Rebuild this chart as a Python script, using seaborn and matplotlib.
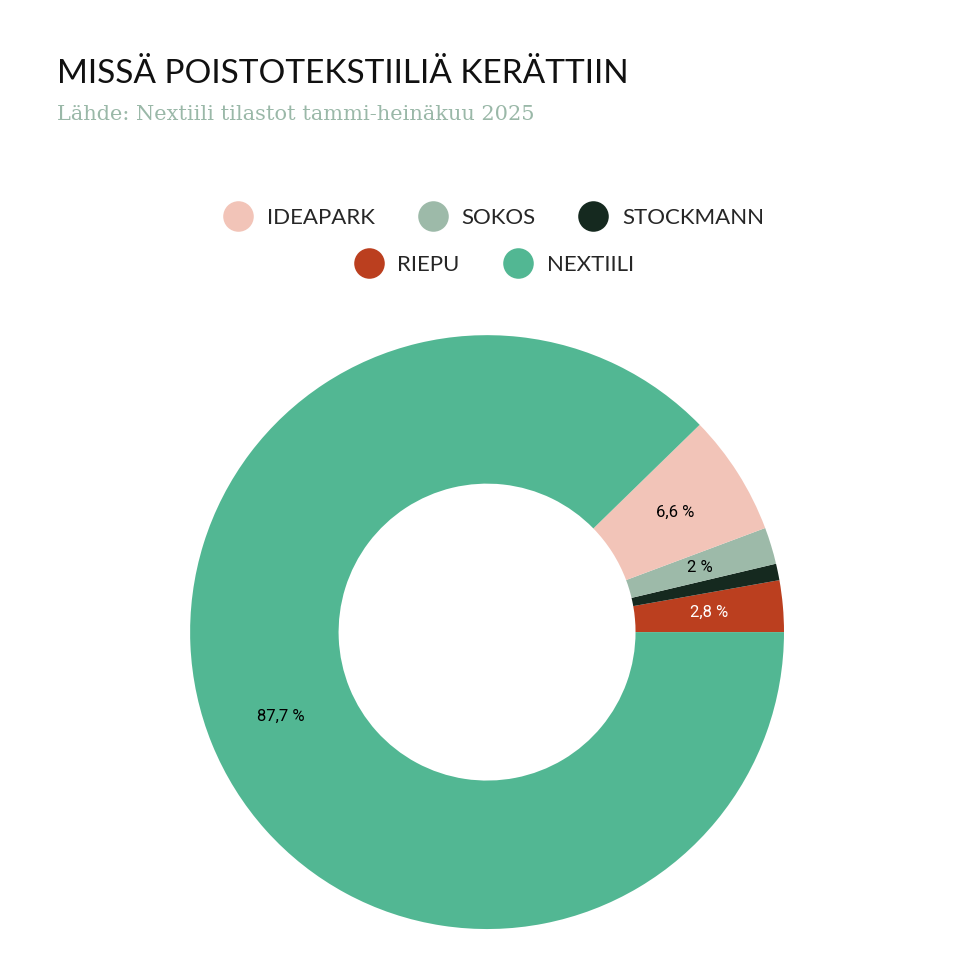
import matplotlib.pyplot as plt
import seaborn as sns
from matplotlib.lines import Line2D

sns.set_theme(style="white")

# data, counterclockwise from 3 o'clock
categories = ["RIEPU", "STOCKMANN", "SOKOS", "IDEAPARK", "NEXTIILI"]
values = [2.8, 0.9, 2.0, 6.6, 87.7]
labels = ["2,8 %", "", "2 %", "6,6 %", "87,7 %"]
colors = ["#bb3f1f", "#15291f", "#9dbaa9", "#f2c4b8", "#52b793"]
label_colors = ["white", "black", "black", "black", "black"]

legend_row1 = ["IDEAPARK", "SOKOS", "STOCKMANN"]
legend_row2 = ["RIEPU", "NEXTIILI"]

fig = plt.figure(figsize=(9.8, 9.8), dpi=100)
fig.patch.set_facecolor("white")

fig.text(0.058, 0.915, "MISSÄ POISTOTEKSTIILIÄ KERÄTTIIN", fontsize=24,
         family="Lato", color="#111111")
fig.text(0.058, 0.878, "Lähde: Nextiili tilastot tammi-heinäkuu 2025", fontsize=15,
         family="DejaVu Serif", color="#9ab8a8")

ax = fig.add_axes([0.194, 0.052, 0.606, 0.606])
wedges, texts = ax.pie(values, colors=colors, startangle=0, counterclock=True,
                       radius=1, wedgeprops=dict(width=0.5, linewidth=0))
import numpy as np
for w, lab, c in zip(wedges, labels, label_colors):
    ang = np.deg2rad((w.theta1 + w.theta2) / 2)
    ax.text(0.75 * np.cos(ang), 0.75 * np.sin(ang), lab, ha="center", va="center",
            fontsize=12, color=c, family="Roboto")
ax.set_xlim(-1, 1)
ax.set_ylim(-1, 1)
ax.set_aspect("equal")
ax.axis("off")

color_of = dict(zip(categories, colors))

def make_handles(names):
    return [Line2D([], [], marker="o", linestyle="", markersize=22,
                   markerfacecolor=color_of[n], markeredgewidth=0) for n in names]

for names, y in [(legend_row1, 0.778), (legend_row2, 0.73)]:
    fig.legend(make_handles(names), names, loc="center", bbox_to_anchor=(0.5, y),
               ncol=len(names), frameon=False, fontsize=16, handletextpad=0.3,
               columnspacing=1.6, prop=dict(family="Lato", size=16))

fig.savefig("out.png", dpi=100, facecolor="white")
